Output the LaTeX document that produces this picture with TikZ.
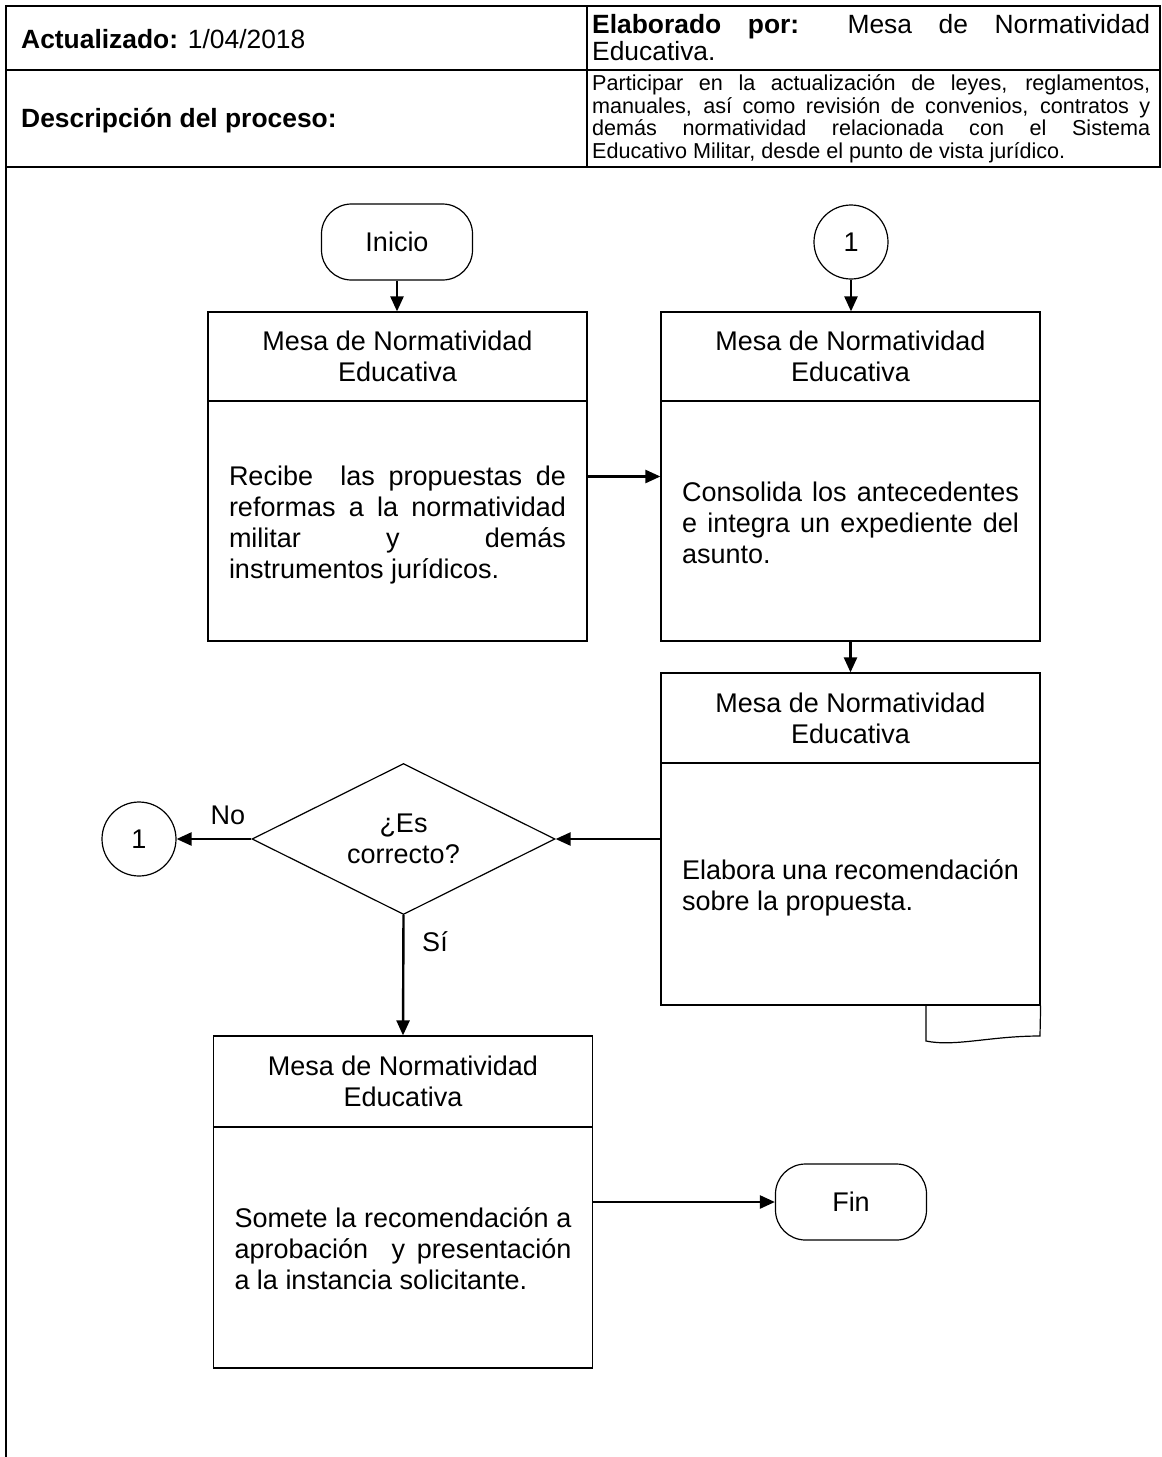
\documentclass[tikz,border=0pt]{standalone}
\usepackage{fontspec}
\setmainfont{Liberation Sans}
\usetikzlibrary{arrows.meta,shapes.geometric}
\tolerance=10000
\hbadness=10000
\newcommand{\myBody}{\fontsize{27}{31}\selectfont}
\newcommand{\myHdr}{\fontsize{26.4}{27}\selectfont}
\newcommand{\myDsc}{\fontsize{21.6}{22.5}\selectfont}
\begin{document}
\begin{tikzpicture}[x=1pt,y=-1pt,
  tbl/.style={line width=1.8pt},
  pbox/.style={draw, line width=1.2pt, minimum width=379pt, inner sep=0pt},
  term/.style={draw, line width=1.2pt, rounded corners=30pt, minimum width=151pt, minimum height=76pt, font=\myBody},
  conn/.style={draw, circle, line width=1.2pt, minimum size=74pt, inner sep=0pt, font=\myBody},
  ttl/.style={align=center, font=\myBody, inner sep=0pt},
  bodytxt/.style={text width=337pt, align=justify, font=\myBody, inner sep=0pt},
  lbl/.style={font=\myBody, inner sep=0pt},
  arr/.style={line width=2.4pt, -{Triangle[length=15pt,width=13pt]}},
  divl/.style={line width=1.2pt}
]
\useasboundingbox (0,0) rectangle (1162,1457);

% header table
\draw[tbl] (6,1457) -- (6,6) -- (1160,6) -- (1160,167) -- (6,167);
\draw[tbl] (6,70) -- (1160,70);
\draw[tbl] (587,6) -- (587,167);

\node[anchor=west, font=\myHdr, inner sep=0pt] (act) at (21,39) {\textbf{Actualizado:} 1/04/2018};
\node[anchor=west, font=\myHdr, inner sep=0pt] (dsc) at (21,121) {\textbf{Descripción del proceso:}};
\node[anchor=west, text width=558pt, align=justify, font=\myHdr, inner sep=0pt] (elab) at (592,38)
  {\textbf{Elaborado por:} Mesa de Normatividad\linebreak Educativa.};
\node[anchor=west, text width=558pt, align=justify, font=\myDsc, inner sep=0pt] (dtx) at (592,119)
  {Participar en la actualización de leyes, reglamentos,\linebreak
   manuales, así como revisión de convenios, contratos y\linebreak
   demás normatividad relacionada con el Sistema\linebreak
   Educativo Militar, desde el punto de vista jurídico.};

% terminals and connectors
\node[term] (ini) at (397,242) {Inicio};
\node[conn] (c1t) at (851,242) {1};
\node[term] (fin) at (851,1202) {Fin};
\node[conn] (c1l) at (139,839) {1};

% box 1
\node[pbox, minimum height=329pt] (b1) at (397.5,476.5) {};
\draw[divl] (b1.west |- 0,401) -- (b1.east |- 0,401);
\node[ttl] (t1) at (397.5,356.5) {Mesa de Normatividad\\Educativa};
\node[bodytxt] (x1) at (397.5,525) {Recibe\ \ las propuestas de\linebreak reformas a la normatividad\linebreak militar y demás\linebreak instrumentos jurídicos.};

% box 2
\node[pbox, minimum height=329pt] (b2) at (850.5,476.5) {};
\draw[divl] (b2.west |- 0,401) -- (b2.east |- 0,401);
\node[ttl] (t2) at (850.5,356.5) {Mesa de Normatividad\\Educativa};
\node[bodytxt] (x2) at (850.5,523) {Consolida los antecedentes\linebreak e integra un expediente del\linebreak asunto.};

% box 3 (document)
\node[pbox, minimum height=332pt] (b3) at (850.5,839) {};
\draw[divl] (b3.west |- 0,763) -- (b3.east |- 0,763);
\draw[divl] (926,1005) -- (926,1041) .. controls (955,1047) and (990,1036) .. (1040,1036) -- (b3.south east);
\node[ttl] (t3) at (850.5,718) {Mesa de Normatividad\\Educativa};
\node[bodytxt] (x3) at (850.5,888) {Elabora una recomendación\linebreak sobre la propuesta.};

% decision
\node[draw, diamond, aspect=2, minimum width=303pt, minimum height=151pt, inner sep=0pt, line width=1.2pt, align=center, font=\myBody] (dec) at (403.5,839) {¿Es\\correcto?};
\node[lbl] (no) at (228,815) {No};
\node[lbl] (si) at (435,942) {Sí};

% box 4
\node[pbox, minimum height=332pt] (b4) at (403,1202) {};
\draw[divl] (b4.west |- 0,1127) -- (b4.east |- 0,1127);
\node[ttl] (t4) at (403,1081.5) {Mesa de Normatividad\\Educativa};
\node[bodytxt] (x4) at (403,1249) {Somete la recomendación a\linebreak aprobación\ \ y presentación\linebreak a la instancia solicitante.};

% connectors
\draw[arr] (ini.south) -- (ini.south |- b1.north);
\draw[arr] (c1t.south) -- (c1t.south |- b2.north);
\draw[arr] (b1.east) -- (b2.west);
\draw[arr] (b2.south) -- (b3.north);
\draw[arr] (b3.west) -- (dec.east);
\draw[arr] (dec.west) -- (c1l.east);
\draw[arr] (dec.south) -- (b4.north);
\draw[arr] (b4.east) -- (fin.west);
\end{tikzpicture}
\end{document}
